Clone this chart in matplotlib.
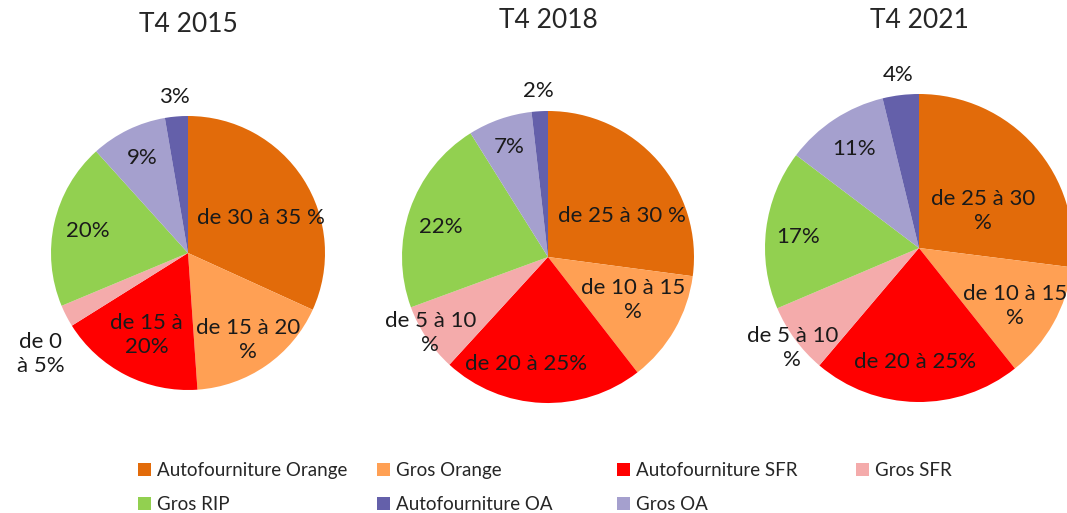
import numpy as np
import matplotlib.pyplot as plt
from matplotlib.patches import Patch

plt.rcParams['font.family'] = ['Lato', 'DejaVu Sans']

# series, clockwise from 12 o'clock
series = ['Autofourniture Orange', 'Gros Orange', 'Autofourniture SFR', 'Gros SFR',
          'Gros RIP', 'Gros OA', 'Autofourniture OA']
colors = ['#E26B0A', '#FFA054', '#FF0000', '#F4ABAB', '#92D050', '#A5A0CE', '#6460AA']

titles = ['T4 2015', 'T4 2018', 'T4 2021']

# shares (%)
vals_2015 = [31.8, 17.1, 17.2, 2.6, 19.6, 9.0, 2.7]
vals_2018 = [27.1, 12.4, 22.3, 7.6, 21.7, 7.1, 1.8]
vals_2021 = [27.0, 12.3, 21.9, 7.4, 16.7, 10.9, 3.8]

labels_2015 = ['de 30 à 35 %', 'de 15 à 20\n%', 'de 15 à\n20%', 'de 0\nà 5%', '20%', '9%', '3%']
labels_2018 = ['de 25 à 30 %', 'de 10 à 15\n%', 'de 20 à 25%', 'de 5 à 10\n%', '22%', '7%', '2%']
labels_2021 = ['de 25 à 30\n%', 'de 10 à 15\n%', 'de 20 à 25%', 'de 5 à 10\n%', '17%', '11%', '4%']

# legend order (row by row)
legend_rows = [['Autofourniture Orange', 'Gros Orange', 'Autofourniture SFR', 'Gros SFR'],
               ['Gros RIP', 'Autofourniture OA', 'Gros OA']]

# layout (pixels)
W, H = 1067, 513
centers = [(188, 253), (548, 257), (919, 248)]
radii = [137, 146, 154]
title_y = [25, 20, 20]
lab_r = [[0.59, 0.77, 0.67, 1.30, 0.75, 0.77, 1.14],
         [0.58, 0.65, 0.75, 0.96, 0.76, 0.80, 1.14],
         [0.48, 0.73, 0.74, 1.05, 0.79, 0.77, 1.13]]
lab_shift = [[7, 0, 0, -7, 0, 0, 0],
             [12, -3, 9, 1, -3, 0, 0],
             [11, 2, 1, -2, -2, 0, 0]]

fig = plt.figure(figsize=(W / 100, H / 100), dpi=100)
fig.patch.set_facecolor('white')

L = 1.02
all_vals = [vals_2015, vals_2018, vals_2021]
all_labels = [labels_2015, labels_2018, labels_2021]
for k in range(3):
    cx, cy = centers[k]
    r = radii[k]
    ax = fig.add_axes([(cx - r * L) / W, (H - cy - r * L) / H, 2 * r * L / W, 2 * r * L / H])
    wedges, _ = ax.pie(all_vals[k], colors=colors, startangle=90, counterclock=False,
                       wedgeprops=dict(linewidth=0))
    ax.set_xlim(-L, L)
    ax.set_ylim(-L, L)
    ax.set_aspect('equal')
    for i, w in enumerate(wedges):
        mid = np.deg2rad((w.theta1 + w.theta2) / 2 - lab_shift[k][i])
        rr = lab_r[k][i]
        ax.text(rr * np.cos(mid), rr * np.sin(mid), all_labels[k][i], ha='center', va='center',
                fontsize=16, color='#1a1a1a', linespacing=1.25, multialignment='center')
    fig.text(cx / W, 1 - title_y[k] / H, titles[k], ha='center', va='center',
             fontsize=19, color='#262626')

# legend, one column at a time so the columns sit on an even grid
col_x = [138, 377, 617, 856]
for c in range(4):
    names = [row[c] for row in legend_rows if c < len(row)]
    handles = [Patch(facecolor=colors[series.index(n)], edgecolor='none') for n in names]
    fig.legend(handles, names, loc='upper left', bbox_to_anchor=(col_x[c] / W, 1 - 462 / H),
               frameon=False, fontsize=13.5, handlelength=0.7, handleheight=0.65,
               handletextpad=0.3, borderpad=0, borderaxespad=0, labelspacing=0.9,
               labelcolor='#262626')

fig.savefig('out.png', dpi=100, facecolor='white')
